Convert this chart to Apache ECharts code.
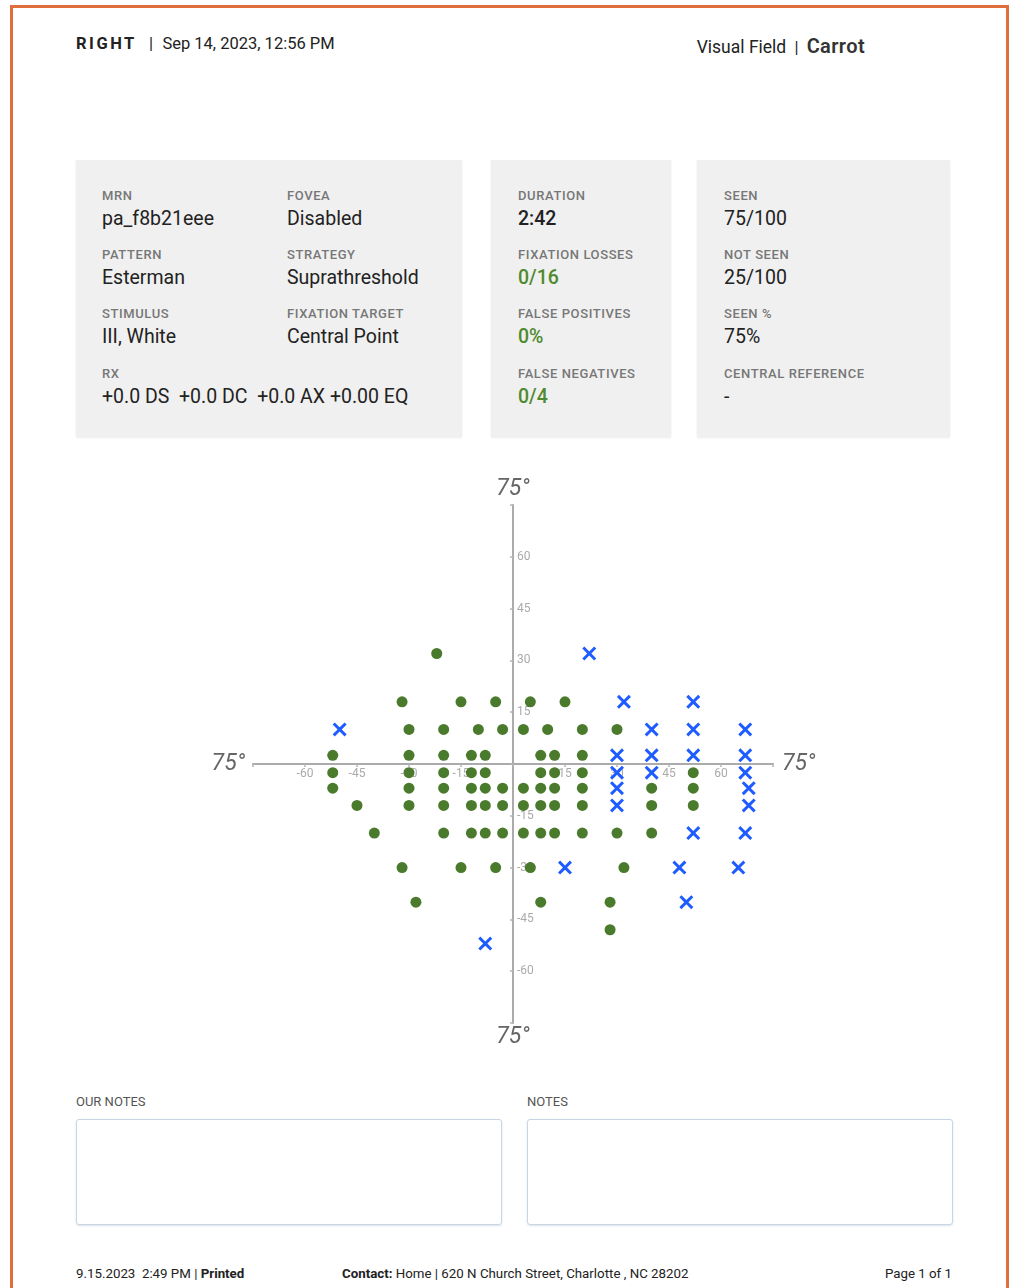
<!DOCTYPE html>
<html>
<head>
<meta charset="utf-8">
<title>Visual Field</title>
<script src="https://cdn.jsdelivr.net/npm/echarts@6/dist/echarts.min.js"></script>
<style>
  body { margin: 0; background: #fff; font-family: Roboto, "Noto Sans", sans-serif; color: #222; }
  .page { position: absolute; left: 10px; top: 5px; width: 999px; height: 1300px;
          border: 3px solid #df6f3d; border-bottom: none; box-sizing: border-box; overflow: hidden; }
  .abs { position: absolute; white-space: nowrap; }
  .hdr { font-size: 16.5px; color: #222; }
  .panel { position: absolute; top: 160px; height: 277px; background: #f0f0f0;
           box-shadow: 0 1px 2px rgba(0,0,0,0.08); }
  .lab { position: absolute; font-size: 13px; color: #777; letter-spacing: 0.6px; font-weight: 500; }
  .val { position: absolute; font-size: 19.5px; color: #222; }
  .green { color: #4e8a2e; font-weight: 500; }
  .notes-lab { font-size: 13px; color: #555; }
  .box { position: absolute; top: 1119px; height: 106px; border: 1.5px solid #c8d5e2; border-radius: 3px;
         box-shadow: 0 1px 2px rgba(120,140,170,0.25); box-sizing: border-box; }
  .foot { font-size: 13.3px; color: #222; top: 1266px; }
  #vf { position: absolute; left: 0; top: 460px; width: 1010px; height: 600px; }
</style>
</head>
<body>
<div class="page"></div>

<!-- header -->
<div class="abs hdr" style="left:76px; top:34px;"><b style="letter-spacing:2.5px;">RIGHT</b>&nbsp;&nbsp;&nbsp;|&nbsp;&nbsp;&nbsp;<span style="font-size:16.5px; margin-left:-3px;">Sep 14, 2023, 12:56 PM</span></div>
<div class="abs hdr" style="right:145px; top:34px;"><span style="font-size:17.5px;">Visual Field</span>&nbsp;&nbsp;|&nbsp;&nbsp;<span style="font-size:20px; font-weight:600; color:#333; letter-spacing:0.4px;">Carrot</span></div>

<!-- info panels -->
<div class="panel" style="left:76px; width:386px;">
  <div class="lab" style="left:26px; top:28px;">MRN</div>
  <div class="val" style="left:26px; top:47px;">pa_f8b21eee</div>
  <div class="lab" style="left:211px; top:28px;">FOVEA</div>
  <div class="val" style="left:211px; top:47px;">Disabled</div>
  <div class="lab" style="left:26px; top:87px;">PATTERN</div>
  <div class="val" style="left:26px; top:106px;">Esterman</div>
  <div class="lab" style="left:211px; top:87px;">STRATEGY</div>
  <div class="val" style="left:211px; top:106px;">Suprathreshold</div>
  <div class="lab" style="left:26px; top:146px;">STIMULUS</div>
  <div class="val" style="left:26px; top:165px;">III, White</div>
  <div class="lab" style="left:211px; top:146px;">FIXATION TARGET</div>
  <div class="val" style="left:211px; top:165px;">Central Point</div>
  <div class="lab" style="left:26px; top:206px;">RX</div>
  <div class="val" style="left:26px; top:225px; white-space:pre;">+0.0 DS  +0.0 DC  +0.0 AX +0.00 EQ</div>
</div>
<div class="panel" style="left:491px; width:180px;">
  <div class="lab" style="left:27px; top:28px;">DURATION</div>
  <div class="val" style="left:27px; top:47px; font-weight:500;">2:42</div>
  <div class="lab" style="left:27px; top:87px;">FIXATION LOSSES</div>
  <div class="val green" style="left:27px; top:106px;">0/16</div>
  <div class="lab" style="left:27px; top:146px;">FALSE POSITIVES</div>
  <div class="val green" style="left:27px; top:165px;">0%</div>
  <div class="lab" style="left:27px; top:206px;">FALSE NEGATIVES</div>
  <div class="val green" style="left:27px; top:225px;">0/4</div>
</div>
<div class="panel" style="left:697px; width:253px;">
  <div class="lab" style="left:27px; top:28px;">SEEN</div>
  <div class="val" style="left:27px; top:47px;">75/100</div>
  <div class="lab" style="left:27px; top:87px;">NOT SEEN</div>
  <div class="val" style="left:27px; top:106px;">25/100</div>
  <div class="lab" style="left:27px; top:146px;">SEEN %</div>
  <div class="val" style="left:27px; top:165px;">75%</div>
  <div class="lab" style="left:27px; top:206px;">CENTRAL REFERENCE</div>
  <div class="val" style="left:27px; top:225px;">-</div>
</div>

<div id="vf"></div>

<!-- notes -->
<div class="abs notes-lab" style="left:76px; top:1094px;">OUR NOTES</div>
<div class="box" style="left:76px; width:426px;"></div>
<div class="abs notes-lab" style="left:527px; top:1094px;">NOTES</div>
<div class="box" style="left:527px; width:426px;"></div>

<!-- footer -->
<div class="abs foot" style="left:76px;">9.15.2023&nbsp;&nbsp;2:49 PM | <b>Printed</b></div>
<div class="abs foot" style="left:342px;"><b>Contact:</b> Home | 620 N Church Street, Charlotte , NC 28202</div>
<div class="abs foot" style="right:58px;">Page 1 of 1</div>

<script>
// seen points (degrees)
var seenX = [-22,
  -32, -15, -5, 5, 15,
  -30, -20, -10, -3, 3, 10, 20, 30,
  -52, -30, -20, -12, -8, 8, 12, 20,
  -52, -30, -20, -12, -8, 8, 12, 20, 52,
  -52, -30, -20, -12, -8, -3, 3, 8, 12, 20, 40, 52,
  -45, -30, -20, -12, -8, -3, 3, 8, 12, 20, 40, 52,
  -40, -20, -12, -8, -3, 3, 8, 12, 20, 30, 40,
  -32, -15, -5, 5, 32,
  -28, 8, 28,
  28];
var seenY = [32,
  18, 18, 18, 18, 18,
  10, 10, 10, 10, 10, 10, 10, 10,
  2.5, 2.5, 2.5, 2.5, 2.5, 2.5, 2.5, 2.5,
  -2.5, -2.5, -2.5, -2.5, -2.5, -2.5, -2.5, -2.5, -2.5,
  -7, -7, -7, -7, -7, -7, -7, -7, -7, -7, -7, -7,
  -12, -12, -12, -12, -12, -12, -12, -12, -12, -12, -12, -12,
  -20, -20, -20, -20, -20, -20, -20, -20, -20, -20, -20,
  -30, -30, -30, -30, -30,
  -40, -40, -40,
  -48];

// not seen points (degrees)
var missedX = [22, 32, 52, -50, 40, 52, 67, 30, 40, 52, 67, 30, 40, 67,
  30, 68, 30, 68, 52, 67, 15, 48, 65, 50, -8];
var missedY = [32, 18, 18, 10, 10, 10, 10, 2.5, 2.5, 2.5, 2.5, -2.5, -2.5, -2.5,
  -7, -7, -12, -12, -20, -20, -30, -30, -30, -40, -52];

var axisTicks = [-60, -45, -30, -15, 15, 30, 45, 60];
var edgeLabel = '75°';

var seenData = seenX.map(function (x, i) { return [x, seenY[i]]; });
var missedData = missedX.map(function (x, i) { return [x, missedY[i]]; });

var crossPath = 'path://M0,1.5 L1.5,0 L5,3.5 L8.5,0 L10,1.5 L6.5,5 L10,8.5 L8.5,10 L5,6.5 L1.5,10 L0,8.5 L3.5,5 Z';

function tickLabel(v) {
  return axisTicks.indexOf(v) >= 0 ? String(v) : '';
}

// grid box in px inside the chart div
var gridLeft = 253, gridRight = 237, gridTop = 45, gridBottom = 37;
var gridW = 1010 - gridLeft - gridRight;
var gridH = 600 - gridTop - gridBottom;

var chartDom = document.getElementById('vf');
var myChart = echarts.init(chartDom);

var option = {
  animation: false,
  grid: { left: gridLeft, right: gridRight, top: gridTop, bottom: gridBottom },
  // axes are pushed into the middle with offset so line, ticks and labels cross at 0
  xAxis: {
    type: 'value', min: -75, max: 75, interval: 15,
    position: 'bottom', offset: -gridH / 2,
    splitLine: { show: false },
    axisLine: { onZero: false, lineStyle: { color: '#ababab', width: 2 } },
    axisTick: { show: true, length: 3, lineStyle: { color: '#b5b5b5', width: 1.5 } },
    axisLabel: { color: '#aaa', fontSize: 12, fontFamily: 'Roboto', margin: 4, formatter: tickLabel }
  },
  yAxis: {
    type: 'value', min: -75, max: 75, interval: 15,
    position: 'left', offset: -gridW / 2,
    splitLine: { show: false },
    axisLine: { onZero: false, lineStyle: { color: '#ababab', width: 2 } },
    axisTick: { show: true, length: 3, lineStyle: { color: '#b5b5b5', width: 1.5 } },
    axisLabel: { color: '#aaa', fontSize: 12, fontFamily: 'Roboto', inside: true, margin: 4, formatter: tickLabel }
  },
  series: [
    {
      name: 'Seen',
      type: 'scatter',
      symbol: 'circle',
      symbolSize: 11,
      itemStyle: { color: '#4a7a2b', opacity: 1 },
      data: seenData
    },
    {
      name: 'Not seen',
      type: 'scatter',
      symbol: crossPath,
      symbolSize: 14,
      itemStyle: { color: '#1f5cff', opacity: 1 },
      data: missedData
    }
  ]
};
myChart.setOption(option);

// the four 75° labels at the axis ends
var pTop = myChart.convertToPixel('grid', [0, 75]);
var pBottom = myChart.convertToPixel('grid', [0, -75]);
var pLeft = myChart.convertToPixel('grid', [-75, 0]);
var pRight = myChart.convertToPixel('grid', [75, 0]);
function edgeText(x, y, align) {
  return {
    type: 'text', x: x, y: y,
    style: { text: edgeLabel, fill: '#666', fontSize: 23, fontStyle: 'italic', fontFamily: 'Roboto',
             align: align, verticalAlign: 'middle' }
  };
}
myChart.setOption({
  graphic: [
    edgeText(pTop[0], pTop[1] - 16, 'center'),
    edgeText(pBottom[0], pBottom[1] + 14, 'center'),
    edgeText(pLeft[0] - 8, pLeft[1], 'right'),
    edgeText(pRight[0] + 9, pRight[1], 'left')
  ]
});
</script>
</body>
</html>
